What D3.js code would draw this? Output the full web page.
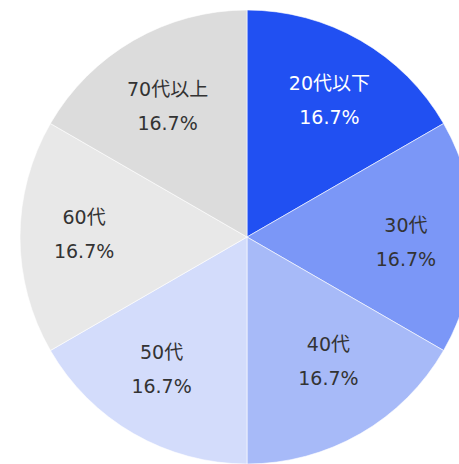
<!DOCTYPE html>
<html>
<head>
<meta charset="utf-8">
<script src="https://cdn.jsdelivr.net/npm/d3@7"></script>
<style>
  body { margin: 0; background: #fff; }
</style>
</head>
<body>
<svg id="pie" width="459" height="464"></svg>
<script>
// age groups, share of respondents (%)
const categories = ["20代以下", "30代", "40代", "50代", "60代", "70代以上"];
const values = [16.7, 16.7, 16.7, 16.7, 16.7, 16.7];
const colors = ["#2150f2", "#7b97f7", "#a7baf8", "#d3dcfb", "#e8e8e8", "#dcdcdc"];
const labelColors = ["#ffffff", "#333333", "#333333", "#333333", "#333333", "#333333"];

const cx = 247, cy = 237, radius = 227;

// small hand nudges so labels sit where the original placed them
const labelNudge = [[3, 1], [0, 5], [2, -14], [-6, -6], [-4, -3], [0, 7]];

const data = categories.map((c, i) => ({ name: c, value: values[i], i }));

const pie = d3.pie().sort(null).value(d => d.value);
const arc = d3.arc().innerRadius(0).outerRadius(radius);
const labelArc = d3.arc().innerRadius(radius * 0.7).outerRadius(radius * 0.7);

const svg = d3.select("#pie");
const g = svg.append("g").attr("transform", `translate(${cx},${cy})`);

const slices = g.selectAll("g.slice")
    .data(pie(data))
    .join("g")
    .attr("class", "slice");

slices.append("path")
    .attr("d", arc)
    .attr("fill", d => colors[d.data.i])
    .attr("stroke", "#ffffff")
    .attr("stroke-width", 0.6);

const label = slices.append("text")
    .attr("transform", d => {
      const [x, y] = labelArc.centroid(d);
      const [nx, ny] = labelNudge[d.data.i];
      return `translate(${x + nx},${y + ny})`;
    })
    .attr("text-anchor", "middle")
    .style("font-family", "'DejaVu Sans', 'Noto Sans CJK JP', sans-serif")
    .style("font-size", "19px")
    .attr("fill", d => labelColors[d.data.i]);

label.append("tspan")
    .attr("x", 0)
    .attr("y", -10)
    .text(d => d.data.name);

label.append("tspan")
    .attr("x", 0)
    .attr("y", 24)
    .text(d => d.data.value.toFixed(1) + "%");
</script>
</body>
</html>
